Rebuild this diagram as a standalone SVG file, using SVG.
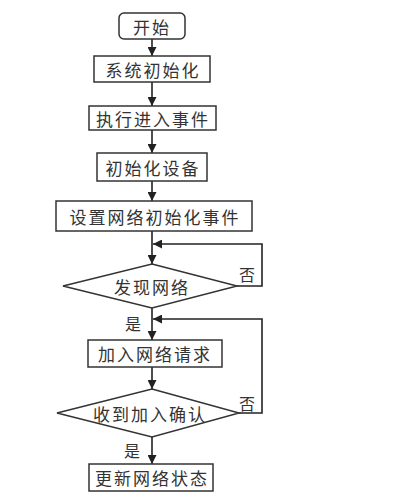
<svg xmlns="http://www.w3.org/2000/svg" width="404" height="500" viewBox="0 0 404 500">
<style>
.box{fill:#fff;stroke:#333;stroke-width:1.5}
.t{font-family:"Noto Sans CJK SC","Liberation Sans",sans-serif;font-size:17px;fill:#333;text-anchor:middle;dominant-baseline:central;letter-spacing:2px}
.l{font-family:"Noto Sans CJK SC","Liberation Sans",sans-serif;font-size:16px;fill:#333;text-anchor:middle;dominant-baseline:central}
.c{fill:none;stroke:#222;stroke-width:1.6}
</style>
<defs>
<marker id="a" viewBox="0 0 10 10" refX="10" refY="5" markerWidth="9" markerHeight="9" markerUnits="userSpaceOnUse" orient="auto"><path d="M0,0L10,5L0,10z" fill="#222"/></marker>
</defs>
<rect width="404" height="500" fill="#fff"/>
<g id="connectors">
<line class="c" x1="152" y1="39" x2="152" y2="56" marker-end="url(#a)"/>
<line class="c" x1="152" y1="82" x2="152" y2="106" marker-end="url(#a)"/>
<line class="c" x1="152" y1="130" x2="152" y2="153" marker-end="url(#a)"/>
<line class="c" x1="152" y1="181" x2="152" y2="201" marker-end="url(#a)"/>
<line class="c" x1="152" y1="231" x2="152" y2="264" marker-end="url(#a)"/>
<polyline class="c" points="237,286 262,286 262,244 153,244" marker-end="url(#a)"/>
<line class="c" x1="152" y1="308" x2="152" y2="340" marker-end="url(#a)"/>
<polyline class="c" points="239,413 262,413 262,319 153,319" marker-end="url(#a)"/>
<line class="c" x1="152" y1="367" x2="152" y2="389" marker-end="url(#a)"/>
<line class="c" x1="152" y1="437" x2="152" y2="464" marker-end="url(#a)"/>
<text class="l" x="247" y="274">否</text>
<text class="l" x="133" y="323">是</text>
<text class="l" x="247" y="403">否</text>
<text class="l" x="132" y="450">是</text>
</g>
<g id="start"><rect class="box" x="119" y="13" width="66" height="26" rx="5"/><text class="t" x="152" y="26">开始</text></g>
<g id="sysinit"><rect class="box" x="94" y="56" width="116" height="26"/><text class="t" x="153" y="69">系统初始化</text></g>
<g id="exec"><rect class="box" x="89" y="106" width="127" height="24"/><text class="t" x="153" y="118">执行进入事件</text></g>
<g id="devinit"><rect class="box" x="97" y="153" width="110" height="28"/><text class="t" x="153" y="167">初始化设备</text></g>
<g id="netinit"><rect class="box" x="56" y="201" width="196" height="30"/><text class="t" x="155" y="216">设置网络初始化事件</text></g>
<g id="found"><polygon class="box" points="152,264 237,286 152,308 63,286"/><text class="t" x="152" y="286">发现网络</text></g>
<g id="joinreq"><rect class="box" x="88" y="340" width="134" height="27"/><text class="t" x="155" y="353">加入网络请求</text></g>
<g id="confirm"><polygon class="box" points="152,389 239,413 152,437 57,413"/><text class="t" x="150" y="413">收到加入确认</text></g>
<g id="update"><rect class="box" x="89" y="464" width="124" height="27"/><text class="t" x="152" y="477">更新网络状态</text></g>
</svg>
